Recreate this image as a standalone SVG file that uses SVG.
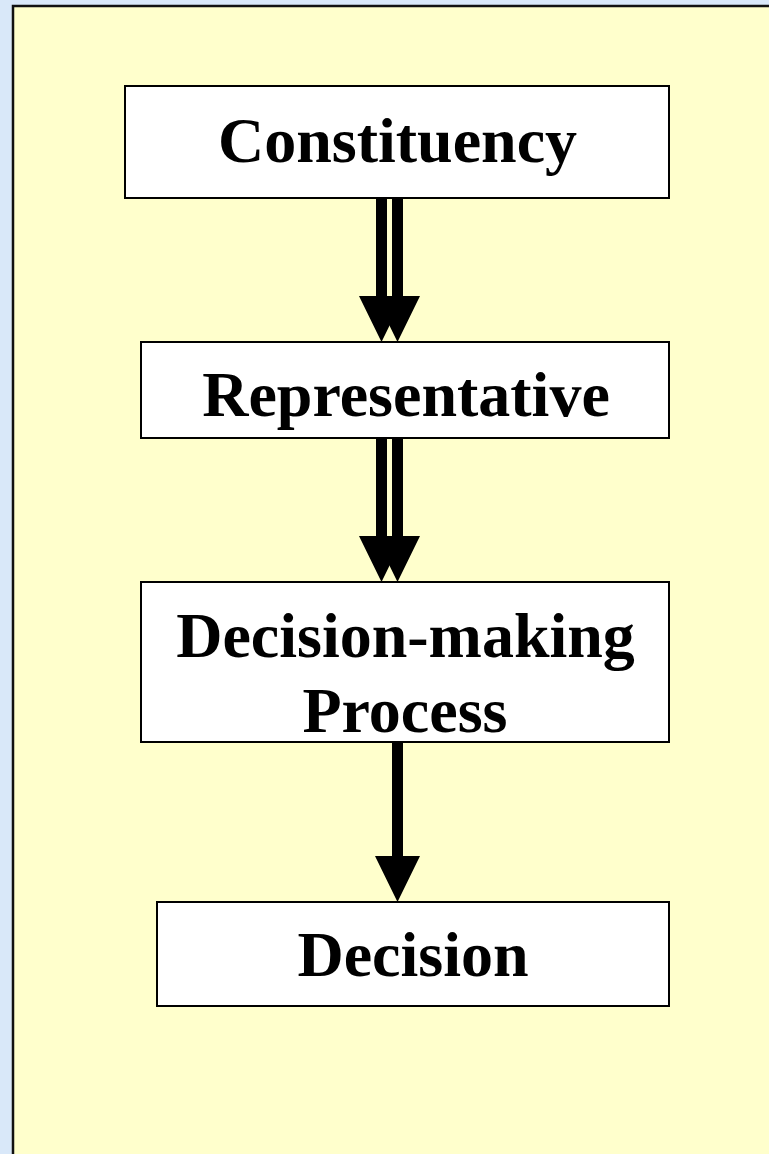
<svg xmlns="http://www.w3.org/2000/svg" width="769" height="1154" viewBox="0 0 769 1154">
<style>
.box{fill:#ffffff;stroke:#000000;stroke-width:2}
.lbl{font-family:"Liberation Serif","Times New Roman",serif;font-weight:bold;font-size:64px;fill:#000000;text-anchor:middle}
.arr{fill:#000000}
</style>
<rect x="0" y="0" width="769" height="1154" fill="#d9e8f9"/>
<rect x="13" y="6" width="760" height="1152" fill="#ffffcc" stroke="#111111" stroke-width="2.5"/>
<g id="connectors">
<polygon class="arr" points="376,198 387,198 387,296 404,296 381.5,342 359,296 376,296"/>
<polygon class="arr" points="392,198 403,198 403,296 420,296 397.5,342 375,296 392,296"/>
<polygon class="arr" points="376,438 387,438 387,536 404,536 381.5,582 359,536 376,536"/>
<polygon class="arr" points="392,438 403,438 403,536 420,536 397.5,582 375,536 392,536"/>
<polygon class="arr" points="392,742 403,742 403,856 420,856 397.5,902 375,856 392,856"/>
</g>
<g id="constituency">
<rect class="box" x="125" y="86" width="544" height="112"/>
<text class="lbl" x="397.5" y="162">Constituency</text>
</g>
<g id="representative">
<rect class="box" x="141" y="342" width="528" height="96"/>
<text class="lbl" x="406" y="416">Representative</text>
</g>
<g id="decision-making-process">
<rect class="box" x="141" y="582" width="528" height="160"/>
<text class="lbl" x="405.5" y="657">Decision-making</text>
<text class="lbl" x="405" y="732">Process</text>
</g>
<g id="decision">
<rect class="box" x="157" y="902" width="512" height="104"/>
<text class="lbl" x="413" y="976">Decision</text>
</g>
</svg>
